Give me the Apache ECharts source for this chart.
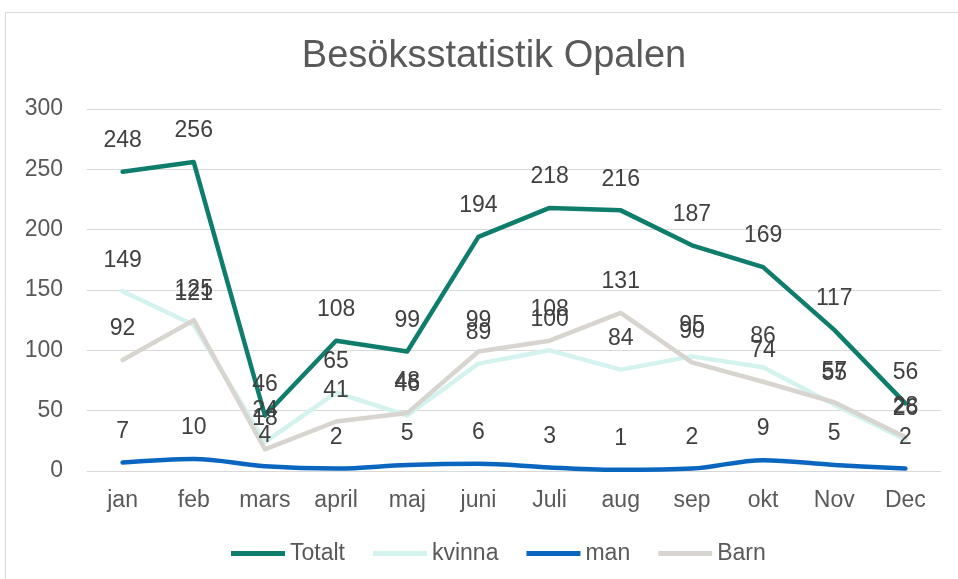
<!DOCTYPE html>
<html>
<head>
<meta charset="utf-8">
<script src="https://cdn.jsdelivr.net/npm/echarts@6/dist/echarts.min.js"></script>
<style>
  html, body { margin: 0; padding: 0; background: #ffffff; }
  #chart { width: 958px; height: 579px; }
</style>
</head>
<body>
<div id="chart"></div>
<script>
// Månader
var months = ['jan', 'feb', 'mars', 'april', 'maj', 'juni', 'Juli', 'aug', 'sep', 'okt', 'Nov', 'Dec'];

// Besökare per månad
var totalt = [248, 256, 46, 108, 99, 194, 218, 216, 187, 169, 117, 56];
var kvinna = [149, 121, 24, 65, 46, 89, 100, 84, 95, 86, 55, 26];
var man    = [7, 10, 4, 2, 5, 6, 3, 1, 2, 9, 5, 2];
var barn   = [92, 125, 18, 41, 48, 99, 108, 131, 90, 74, 57, 28];

// Y-axelns skala
var yMin = 0, yMax = 300, yStep = 50;

var FONT = "'Liberation Sans', Arial, sans-serif";
var LABEL_COLOR = '#404040';
var AXIS_COLOR = '#595959';

function lineSeries(name, data, color, smooth) {
  return {
    name: name,
    type: 'line',
    data: data,
    smooth: smooth ? 0.35 : false,
    symbol: 'circle',
    symbolSize: 1,
    itemStyle: { color: color },
    lineStyle: { color: color, width: 4.5, cap: 'round', join: 'round' },
    label: {
      show: true,
      position: 'top',
      distance: 19,
      color: LABEL_COLOR,
      fontFamily: FONT,
      fontSize: 23
    },
    emphasis: { disabled: true },
    animation: false
  };
}

var chart = echarts.init(document.getElementById('chart'), null, { renderer: 'canvas' });

chart.setOption({
  backgroundColor: '#ffffff',
  animation: false,
  graphic: [{
    type: 'rect',
    shape: { x: 5.5, y: 12.5, width: 1000, height: 700 },
    style: { fill: 'none', stroke: '#d9d9d9', lineWidth: 1 },
    silent: true
  }],
  title: {
    text: 'Besöksstatistik Opalen',
    left: 489,
    textAlign: 'center',
    top: 33,
    textStyle: {
      fontFamily: FONT,
      fontWeight: 'normal',
      fontSize: 38,
      color: AXIS_COLOR
    }
  },
  legend: {
    data: ['Totalt', 'kvinna', 'man', 'Barn'],
    left: 226,
    top: 537,
    icon: 'rect',
    itemWidth: 54,
    itemHeight: 5,
    itemGap: 28,
    textStyle: { fontFamily: FONT, fontSize: 23, color: AXIS_COLOR }
  },
  grid: { left: 87, right: 17, top: 109, bottom: 108, containLabel: false },
  xAxis: {
    type: 'category',
    data: months,
    boundaryGap: true,
    axisLine: { show: true, lineStyle: { color: '#d9d9d9', width: 1 } },
    axisTick: { show: false },
    axisLabel: { color: AXIS_COLOR, fontFamily: FONT, fontSize: 23, margin: 18 },
    splitLine: { show: false }
  },
  yAxis: {
    type: 'value',
    min: yMin,
    max: yMax,
    interval: yStep,
    axisLine: { show: false },
    axisTick: { show: false },
    axisLabel: { color: AXIS_COLOR, fontFamily: FONT, fontSize: 23, margin: 24 },
    splitLine: { show: true, lineStyle: { color: '#d9d9d9', width: 1 } }
  },
  series: [
    lineSeries('Totalt', totalt, '#0f7d6c', false),
    lineSeries('kvinna', kvinna, '#d4f3ef', false),
    lineSeries('man', man, '#0b66c0', true),
    lineSeries('Barn', barn, '#d8d5d0', false)
  ]
});
</script>
</body>
</html>
